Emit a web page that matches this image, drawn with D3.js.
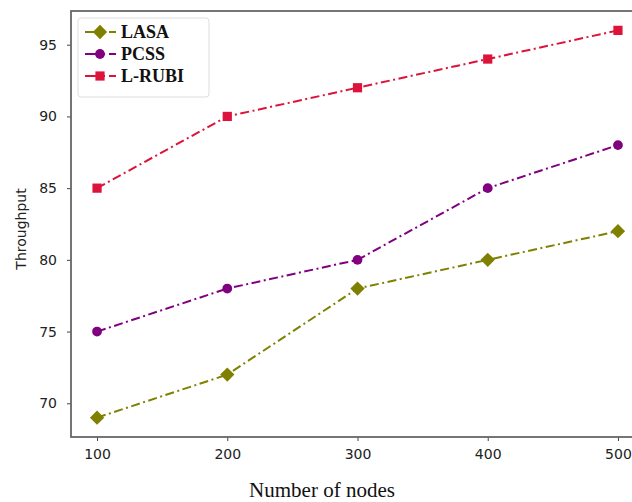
<!DOCTYPE html>
<html>
<head>
<meta charset="utf-8">
<script src="https://cdn.jsdelivr.net/npm/d3@7"></script>
<style>
  body { margin: 0; background: #fff; }
  .tick text { font-family: "DejaVu Sans", sans-serif; font-size: 14px; fill: #222; }
  .domain { display: none; }
  .tick line { stroke: #444; }
</style>
</head>
<body>
<div id="chart"></div>
<script>
// Data
const nodes = [100, 200, 300, 400, 500];
const lasa = [69, 72, 78, 80, 82];
const pcss = [75, 78, 80, 85, 88];
const lrubi = [85, 90, 92, 94, 96];
const xTicks = [100, 200, 300, 400, 500];
const yTicks = [70, 75, 80, 85, 90, 95];

const seriesInfo = [
  { label: "LASA", values: lasa, color: "#808000", symbol: d3.symbolDiamond2, size: 130 },
  { label: "PCSS", values: pcss, color: "#800080", symbol: d3.symbolCircle, size: 75 },
  { label: "L-RUBI", values: lrubi, color: "#dc143c", symbol: d3.symbolSquare, size: 85 }
];

const width = 632, height = 502;
const frame = { left: 71, top: 11, right: 644, bottom: 437 };

const svg = d3.select("#chart")
  .append("svg")
    .attr("width", width)
    .attr("height", height);

// Scales (matplotlib-like 5% padding)
const xScale = d3.scaleLinear()
  .domain([80, 520])
  .range([frame.left, frame.right]);

const yScale = d3.scaleLinear()
  .domain([67.65, 97.35])
  .range([frame.bottom, frame.top]);

// Axes
svg.append("g")
    .attr("transform", `translate(0, ${frame.bottom})`)
    .call(d3.axisBottom(xScale).tickValues(xTicks).tickSize(4).tickPadding(8));

svg.append("g")
    .attr("transform", `translate(${frame.left}, 0)`)
    .call(d3.axisLeft(yScale).tickValues(yTicks).tickSize(4).tickPadding(10));

// Plot frame
svg.append("rect")
    .attr("x", frame.left)
    .attr("y", frame.top)
    .attr("width", frame.right - frame.left)
    .attr("height", frame.bottom - frame.top)
    .attr("fill", "none")
    .attr("stroke", "#666")
    .attr("stroke-width", 1.8);

// Series
seriesInfo.forEach(s => {
  const pts = nodes.map((n, i) => ({ x: n, y: s.values[i] }));

  const line = d3.line()
    .x(d => xScale(d.x))
    .y(d => yScale(d.y));

  svg.append("path")
      .attr("d", line(pts))
      .attr("fill", "none")
      .attr("stroke", s.color)
      .attr("stroke-width", 2)
      .attr("stroke-dasharray", "9,3.5,2,3.5");

  svg.selectAll(null)
    .data(pts)
    .join("path")
      .attr("d", d3.symbol(s.symbol, s.size))
      .attr("transform", d => `translate(${xScale(d.x)}, ${yScale(d.y)})`)
      .attr("fill", s.color);
});

// Legend
const legend = svg.append("g");
legend.append("rect")
    .attr("x", 78)
    .attr("y", 18)
    .attr("width", 131)
    .attr("height", 79)
    .attr("rx", 3)
    .attr("fill", "#fff")
    .attr("stroke", "#ddd");

seriesInfo.forEach((s, i) => {
  const y = 32 + i * 22;
  legend.append("line")
      .attr("x1", 85).attr("x2", 116)
      .attr("y1", y).attr("y2", y)
      .attr("stroke", s.color)
      .attr("stroke-width", 2)
      .attr("stroke-dasharray", "13,4,3,4");
  legend.append("path")
      .attr("d", d3.symbol(s.symbol, s.size))
      .attr("transform", `translate(100, ${y})`)
      .attr("fill", s.color);
  legend.append("text")
      .attr("x", 121)
      .attr("y", y)
      .attr("dy", "0.35em")
      .attr("font-family", "'Liberation Serif', serif")
      .attr("font-weight", "bold")
      .attr("font-size", 18)
      .attr("fill", "#111")
      .text(s.label);
});

// Axis labels
svg.append("text")
    .attr("transform", `translate(26, ${(frame.top + frame.bottom) / 2 + 5}) rotate(-90)`)
    .attr("text-anchor", "middle")
    .attr("font-family", "'DejaVu Sans', sans-serif")
    .attr("font-size", 14)
    .attr("fill", "#222")
    .text("Throughput");

svg.append("text")
    .attr("x", 322)
    .attr("y", 497)
    .attr("text-anchor", "middle")
    .attr("font-family", "'Liberation Serif', serif")
    .attr("font-size", 21)
    .attr("fill", "#111")
    .text("Number of nodes");
</script>
</body>
</html>
